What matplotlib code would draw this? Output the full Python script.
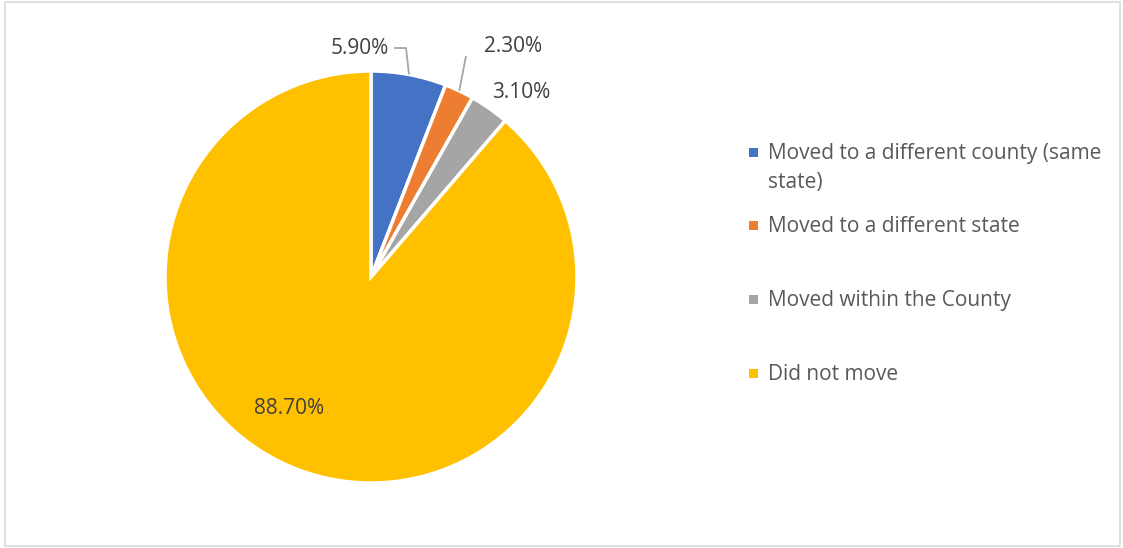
import matplotlib
matplotlib.use("Agg")
import matplotlib.pyplot as plt
import numpy as np
from matplotlib.patches import Rectangle

categories = ["Moved to a different county (same state)", "Moved to a different state",
              "Moved within the County", "Did not move"]
legend_labels = ["Moved to a different county (same\nstate)", "Moved to a different state",
                 "Moved within the County", "Did not move"]
values = [5.9, 2.3, 3.1, 88.7]
value_labels = ["5.90%", "2.30%", "3.10%", "88.70%"]
colors = ["#4472C4", "#ED7D31", "#A5A5A5", "#FFC000"]

W, H = 1123, 548
fig = plt.figure(figsize=(W / 100, H / 100), dpi=100)
plt.rcParams['font.family'] = ['Open Sans', 'DejaVu Sans']

# border
fig.patches.append(Rectangle((5 / W, 2 / H), (W - 8) / W, (H - 4) / H, transform=fig.transFigure,
                             fill=False, edgecolor="#D9D9D9", linewidth=1.2))

cx, cy, r = 371, 277, 206
ax = fig.add_axes([(cx - r) / W, (H - cy - r) / H, 2 * r / W, 2 * r / H])
wedges, _ = ax.pie(values, colors=colors, startangle=90, counterclock=False, radius=1,
                   wedgeprops=dict(edgecolor="white", linewidth=2.5))
ax.set_xlim(-1, 1)
ax.set_ylim(-1, 1)
ax.set_aspect("equal")
ax.axis("off")


def px(x, y):
    return ((x - cx) / r, (cy - y) / r)


txt_color = "#404040"
fs = 15
# label positions in pixel space (layout)
label_pos = [(360, 48), (513, 46), (521, 92), (289, 408)]
for i, (lab, pos) in enumerate(zip(value_labels, label_pos)):
    x, y = px(*pos)
    ax.text(x, y, lab, ha="center", va="center", fontsize=fs, color=txt_color, clip_on=False)

# leader lines
cum = np.cumsum([0] + values)
for i, pts in [(0, [(394, 48), (406, 48)]), (1, [(466, 56)])]:
    mid = 90 - (cum[i] + values[i] / 2) * 3.6
    ex, ey = np.cos(np.radians(mid)), np.sin(np.radians(mid))
    xs = [px(*p)[0] for p in pts] + [ex * 1.0]
    ys = [px(*p)[1] for p in pts] + [ey * 1.0]
    ax.plot(xs, ys, color="#A6A6A6", linewidth=1.3, solid_capstyle="butt", clip_on=False)

# legend
leg_y = [152, 225, 299, 373]
for lab, col, y in zip(legend_labels, colors, leg_y):
    fig.patches.append(Rectangle((749 / W, (H - y - 5) / H), 9 / W, 9 / H, transform=fig.transFigure,
                                 facecolor=col, edgecolor="none"))
    for k, line in enumerate(lab.split("\n")):
        fig.text(768 / W, (H - y - 7 - 29 * k) / H, line, ha="left", va="baseline", fontsize=15,
                 color="#595959")

fig.savefig("out.png", dpi=100)
